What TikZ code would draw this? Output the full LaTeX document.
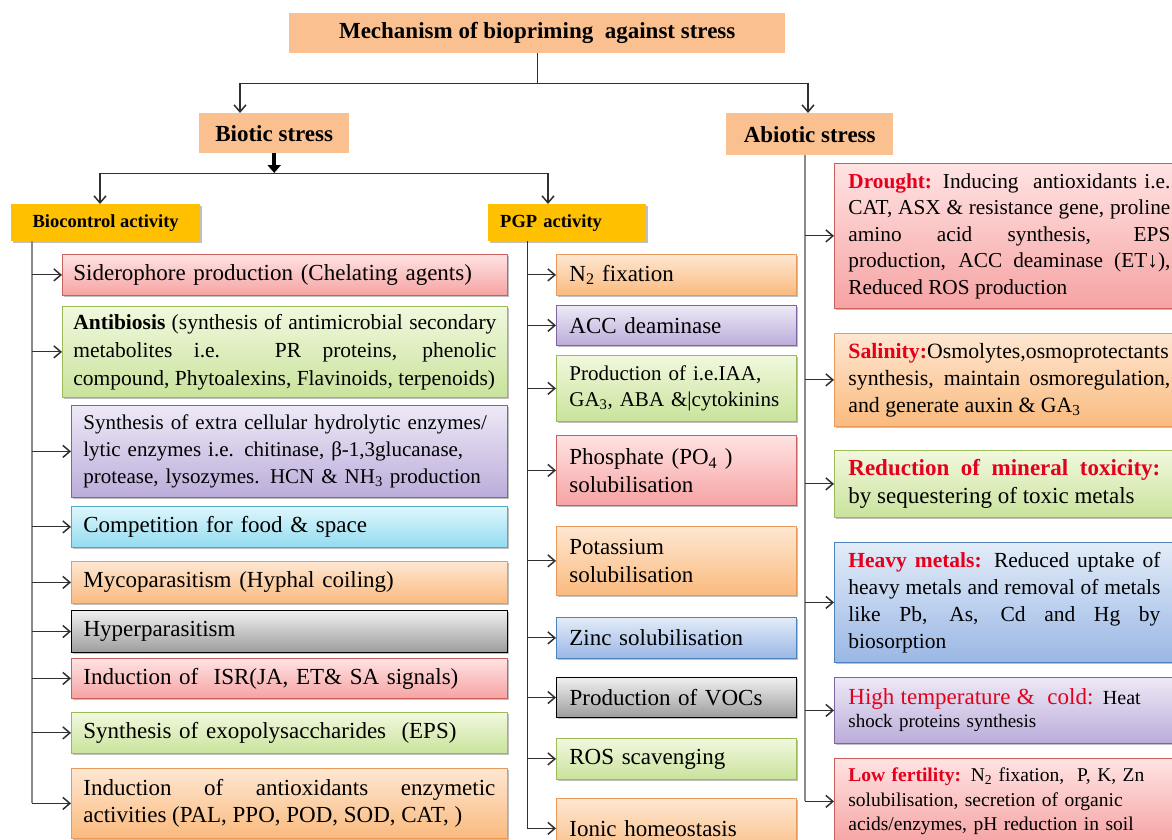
\documentclass[tikz,border=0pt]{standalone}
\usepackage{fontspec}
\setmainfont{Liberation Serif}
\usetikzlibrary{arrows.meta,shadows}
\newcommand\myfs[2]{\fontsize{#1}{#2}\selectfont}
\hyphenpenalty=10000
\exhyphenpenalty=10000
\definecolor{hdrfill}{HTML}{FAC090}
\definecolor{goldfill}{HTML}{FFC000}
\definecolor{redT}{HTML}{FFE3E3}\definecolor{redB}{HTML}{F6A3A3}\definecolor{redD}{HTML}{C9605C}
\definecolor{grnT}{HTML}{F1F8DE}\definecolor{grnB}{HTML}{C9E39C}\definecolor{grnD}{HTML}{9BBB59}
\definecolor{purT}{HTML}{EEE9F6}\definecolor{purB}{HTML}{BBACDA}\definecolor{purD}{HTML}{8064A2}
\definecolor{cyaT}{HTML}{DFF6FC}\definecolor{cyaB}{HTML}{92DCF0}\definecolor{cyaD}{HTML}{4BACC6}
\definecolor{oraT}{HTML}{FEE7D2}\definecolor{oraB}{HTML}{FABA7E}\definecolor{oraD}{HTML}{E9995A}
\definecolor{gryT}{HTML}{F0F0F0}\definecolor{gryB}{HTML}{9C9C9C}
\definecolor{bluT}{HTML}{E3ECF8}\definecolor{bluB}{HTML}{9AB7E5}\definecolor{bluD}{HTML}{4F81BD}
\definecolor{labred}{HTML}{E3001C}
\definecolor{linegray}{HTML}{8A8A8A}
\definecolor{linedark}{HTML}{303030}
\begin{document}
\begin{tikzpicture}[x=1pt,y=-1pt,
  itembox/.style={draw, anchor=north west, inner xsep=12pt, inner ysep=0pt, align=left,
    font=\myfs{23}{28}, line width=0.8pt,
    drop shadow={shadow xshift=1.8pt, shadow yshift=-1.8pt, opacity=0.25, fill=black}},
  redbox/.style={itembox, draw=redD, top color=redT, bottom color=redB},
  grnbox/.style={itembox, draw=grnD, top color=grnT, bottom color=grnB},
  purbox/.style={itembox, draw=purD, top color=purT, bottom color=purB},
  cyabox/.style={itembox, draw=cyaD, top color=cyaT, bottom color=cyaB},
  orabox/.style={itembox, draw=oraD, top color=oraT, bottom color=oraB},
  grybox/.style={itembox, draw=black, line width=1.1pt, top color=gryT, bottom color=gryB},
  blubox/.style={itembox, draw=bluD, top color=bluT, bottom color=bluB},
  hdr/.style={anchor=north west, fill=hdrfill, inner sep=0pt, font=\bfseries\myfs{23}{28}},
  gold/.style={anchor=north west, fill=goldfill, inner sep=0pt, font=\bfseries\myfs{18.5}{22},
    drop shadow={shadow xshift=1.5pt, shadow yshift=-1.5pt, opacity=0.25, fill=black}},
  conn/.style={draw=linedark, line width=0.9pt},
  trunk/.style={draw=linegray, line width=1.1pt},
  arrw/.style={draw=linedark, line width=1.1pt, -{Straight Barb[length=7pt,width=12pt,line width=1.5pt]}},
  thickarr/.style={draw=black, line width=4pt, -{Triangle[length=8pt,width=13pt]}}
]
\useasboundingbox (0,0) rectangle (1172,840);
\clip (0,0) rectangle (1172,840);
\fill[white] (0,0) rectangle (1172,840);

% headers
\node[hdr, minimum width=496pt, minimum height=40pt] (title) at (289,13) {Mechanism of biopriming\ \ against stress};
\node[hdr, minimum width=150pt, minimum height=40pt] (biotic) at (199,113) {Biotic stress};
\node[hdr, minimum width=167pt, minimum height=42pt] (abiotic) at (726,113) {Abiotic stress};
\node[gold, minimum width=189pt, minimum height=37pt] (bioc) at (11,204) {Biocontrol activity};
\node[gold, minimum height=37pt, text width=134pt, inner xsep=12pt, align=left] (pgp) at (488,204) {PGP activity};

% biocontrol items
\node[redbox, inner xsep=11pt, text width=423pt, minimum height=41pt] (s1) at (62,254) {Siderophore production (Chelating agents)};
\node[grnbox, inner xsep=11pt, text width=423pt, minimum height=91pt, align=justify, font=\myfs{21.5}{28}] (s2) at (62,306)
  {\textbf{Antibiosis} (synthesis of antimicrobial secondary\linebreak metabolites i.e. PR proteins, phenolic\linebreak compound, Phytoalexins, Flavinoids, terpenoids)};
\node[purbox, text width=412pt, minimum height=92pt, font=\myfs{21}{27}] (s3) at (71,405)
  {Synthesis of extra cellular hydrolytic enzymes/\\lytic enzymes i.e. chitinase, β-1,3glucanase,\\protease, lysozymes. HCN \& NH\textsubscript{3} production};
\node[cyabox, text width=412pt, minimum height=41pt] (s4) at (71,506) {Competition for food \& space};
\node[orabox, text width=412pt, minimum height=42pt] (s5) at (71,561) {Mycoparasitism (Hyphal coiling)};
\node[grybox, text width=412pt, minimum height=42pt] (s6) at (71,610) {Hyperparasitism};
\node[redbox, text width=412pt, minimum height=40pt] (s7) at (71,658) {Induction of\ \ ISR(JA, ET\& SA signals)};
\node[grnbox, text width=412pt, minimum height=41pt] (s8) at (71,712) {Synthesis of exopolysaccharides\ \ (EPS)};
\node[orabox, text width=412pt, minimum height=70pt, align=justify, font=\myfs{23}{27}] (s9) at (71,768)
  {Induction of antioxidants enzymetic\linebreak activities (PAL, PPO, POD, SOD, CAT, )};

% PGP items
\node[orabox, inner xsep=13pt, text width=214pt, minimum height=41pt] (p1) at (556,254) {N\textsubscript{2} fixation};
\node[purbox, inner xsep=13pt, text width=214pt, minimum height=40pt] (p2) at (556,305) {ACC deaminase};
\node[grnbox, inner xsep=13pt, text width=214pt, minimum height=66pt, font=\myfs{21}{26}] (p3) at (556,355)
  {Production of i.e.IAA,\\GA\textsubscript{3}, ABA \&\textbar cytokinins};
\node[redbox, inner xsep=13pt, text width=214pt, minimum height=70pt, font=\myfs{23}{28}] (p4) at (556,435)
  {Phosphate (PO\textsubscript{4} )\\solubilisation};
\node[orabox, inner xsep=13pt, text width=214pt, minimum height=69pt, font=\myfs{23}{28}] (p5) at (556,526)
  {Potassium\\solubilisation};
\node[blubox, inner xsep=13pt, text width=214pt, minimum height=41pt] (p6) at (556,617) {Zinc solubilisation};
\node[grybox, inner xsep=13pt, text width=214pt, minimum height=40pt] (p7) at (556,677) {Production of VOCs};
\node[grnbox, inner xsep=13pt, text width=214pt, minimum height=41pt] (p8) at (556,738) {ROS scavenging};
\node[orabox, inner xsep=13pt, text width=214pt, minimum height=60pt] (p9) at (556,798) {Ionic homeostasis};

% abiotic items
\node[redbox, inner xsep=14pt, text width=322pt, minimum height=145pt, align=justify, font=\myfs{21.3}{26.5}] (a1) at (834,163)
  {\textcolor{labred}{\textbf{Drought:}} Inducing\ \ antioxidants i.e.\linebreak CAT, ASX \& resistance gene, proline\linebreak amino acid synthesis, EPS\linebreak production, ACC deaminase (ET↓),\linebreak Reduced ROS production};
\node[orabox, inner xsep=14pt, text width=322pt, minimum height=93pt, align=justify, font=\myfs{21.8}{27}] (a2) at (834,333)
  {\textcolor{labred}{\textbf{Salinity:}}Osmolytes,osmoprotectants\linebreak synthesis, maintain osmoregulation,\linebreak and generate auxin \& GA\textsubscript{3}};
\node[grnbox, inner xsep=14pt, text width=312pt, minimum height=67pt, align=justify, font=\myfs{23}{28}] (a3) at (834,450)
  {\textcolor{labred}{\textbf{Reduction of mineral toxicity:}}\linebreak by sequestering of toxic metals};
\node[blubox, inner xsep=14pt, text width=312pt, minimum height=120pt, align=justify, font=\myfs{21.5}{27}] (a4) at (834,542)
  {\textcolor{labred}{\textbf{Heavy metals:}} Reduced uptake of\linebreak heavy metals and removal of metals\linebreak like Pb, As, Cd and Hg by\linebreak biosorption};
\node[purbox, inner xsep=14pt, text width=312pt, minimum height=66pt, font=\myfs{19}{23}] (a5) at (834,677)
  {{\myfs{23}{23}\textcolor{labred}{High temperature \&\ \ cold:}} {\myfs{20}{23}Heat}\\shock proteins synthesis};
\node[redbox, inner xsep=14pt, text width=312pt, minimum height=86pt, font=\myfs{19.5}{24.5}] (a6) at (834,758)
  {\textcolor{labred}{\textbf{Low fertility:}} N\textsubscript{2} fixation,\ \ P, K, Zn\\solubilisation, secretion of organic\\acids/enzymes, pH reduction in soil};

% top connectors
\coordinate (hL) at (240,83);
\coordinate (hR) at (808,83);
\draw[conn] (title.south) -- (title.south |- hL);
\draw[conn] (hL) -- (hR);
\draw[arrw] (hL) -- (hL |- biotic.north);
\draw[arrw] (hR) -- (hR |- abiotic.north);

\coordinate (gL) at (100,173);
\coordinate (gR) at (548,173);
\draw[conn] (gL) -- (gR);
\draw[thickarr] (biotic.south) -- (biotic.south |- gL);
\draw[arrw] (gL) -- (gL |- bioc.north);
\draw[arrw] (gR) -- (gR |- pgp.north);

% trunks
\coordinate (tB) at (32,241);
\coordinate (tP) at (527,241);
\coordinate (tA) at (805,155);
\draw[trunk] (tB) -- (tB |- s9.west);
\draw[conn, line width=1pt] (tP) -- (tP |- p9.west);
\draw[trunk] (tA) -- (tA |- a6.west);

\foreach \n in {s1,s2,s3,s4,s5,s6,s7,s8,s9}{\draw[arrw] (tB |- \n.west) -- (\n.west);}
\foreach \n in {p1,p2,p3,p4,p5,p6,p7,p8,p9}{\draw[arrw] (tP |- \n.west) -- (\n.west);}
\foreach \n in {a1,a2,a3,a4,a5,a6}{\draw[arrw] (tA |- \n.west) -- (\n.west);}
\end{tikzpicture}
\end{document}
